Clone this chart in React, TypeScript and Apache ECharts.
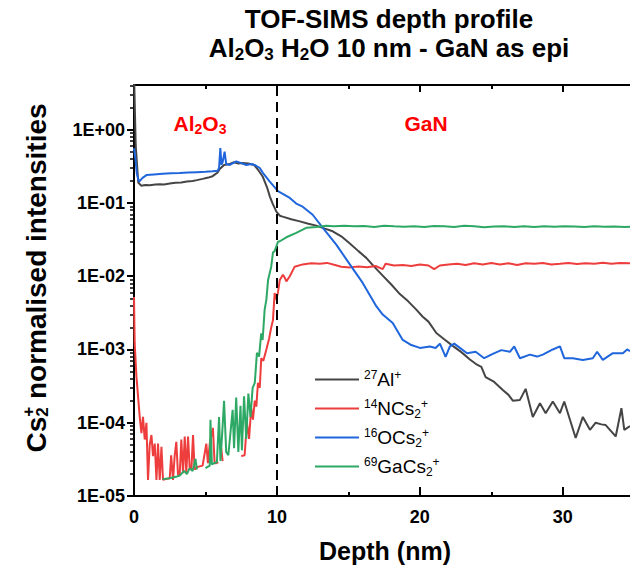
import React, { useEffect, useRef } from 'react';
import * as echarts from 'echarts';

// ---------- data (depth in nm, Cs2+ normalised intensities) ----------
const seriesNames = ['27Al+', '14NCs2+', '16OCs2+', '69GaCs2+'];

const depthAl = [0, 0.12, 0.3, 0.5, 0.8, 1.1, 1.5, 1.8, 2.1, 2.5, 2.9, 3.3, 3.7, 4.1, 4.4, 4.8, 5.2, 5.5, 5.85, 6.0, 6.3, 6.7, 7.0, 7.3, 7.6, 8.0, 8.4, 8.7, 9.0, 9.3, 9.5, 9.7, 9.96, 10.2, 10.4, 11.0, 11.6, 12.2, 12.75, 13.3, 13.9, 14.5, 15.1, 15.7, 16.25, 16.8, 17.4, 18.0, 18.6, 19.2, 19.75, 20.2, 20.6, 21.15, 21.7, 22.3, 22.9, 23.5, 24.0, 24.3, 24.6, 25.2, 25.8, 26.2, 26.5, 27.0, 27.4, 27.9, 28.4, 28.8, 29.3, 29.8, 30.1, 30.5, 30.9, 31.4, 31.9, 32.3, 32.7, 33.0, 33.7, 34.1, 34.3, 34.7];
const valueAl = [6, 0.6, 0.19, 0.172, 0.176, 0.174, 0.178, 0.18, 0.179, 0.184, 0.188, 0.19, 0.196, 0.2, 0.205, 0.213, 0.222, 0.232, 0.26, 0.29, 0.33, 0.34, 0.36, 0.345, 0.35, 0.345, 0.33, 0.28, 0.23, 0.165, 0.123, 0.098, 0.076, 0.067, 0.065, 0.06, 0.056, 0.052, 0.049, 0.045, 0.041, 0.035, 0.028, 0.022, 0.0178, 0.0135, 0.0102, 0.0077, 0.0057, 0.0045, 0.0035, 0.0028, 0.0024, 0.00168, 0.00138, 0.00112, 0.00092, 0.00073, 0.00062, 0.00058, 0.00042, 0.00036, 0.00028, 0.00024, 0.0002, 0.000205, 0.00029, 0.00012, 0.000185, 0.000135, 0.000195, 0.000135, 0.000195, 0.00011, 0.000062, 0.00012, 0.00008, 0.0001, 0.000095, 0.000093, 0.000065, 0.000158, 0.00008, 0.00009];

const depthN = [0, 0.05, 0.17, 0.4, 0.52, 0.63, 0.75, 0.87, 0.98, 1.1, 1.22, 1.33, 1.45, 1.57, 1.68, 1.8, 1.92, 2.03, 2.2, 2.5, 2.6, 2.73, 2.85, 2.96, 3.08, 3.2, 3.31, 3.43, 3.55, 3.66, 3.78, 3.9, 4.02, 4.13, 4.24, 4.47, 4.8, 5.06, 5.17, 5.3, 5.52, 5.64, 5.76, 5.9, 6.0, 6.1, 6.2, 6.35, 7.5, 7.74, 7.9, 8.05, 8.2, 8.32, 8.45, 8.56, 8.67, 8.8, 8.9, 9.05, 9.26, 9.45, 9.6, 9.72, 9.84, 9.96, 10.07, 10.2, 10.42, 10.55, 10.66, 10.9, 11.24, 11.8, 12.4, 13.0, 13.5, 14.0, 14.5, 15.1, 15.7, 16.3, 16.9, 17.4, 17.6, 18.2, 18.8, 19.4, 20.0, 20.6, 21.0, 21.4, 22.0, 22.6, 23.2, 23.8, 24.4, 25.0, 25.6, 26.2, 26.8, 27.4, 28.0, 28.6, 29.2, 29.8, 30.4, 31.0, 31.6, 32.2, 32.8, 33.4, 34.0, 34.7];
const valueN = [0.0052, 0.0012, 0.00043, 0.00012, 0.000072, 0.00012, 0.000059, 0.0001, 0.0000166, 0.00005, 0.000068, 0.000035, 0.000052, 0.0000166, 0.000052, 0.0000166, 0.000047, 0.0000166, 0.000017, 0.0000175, 0.000036, 0.0000166, 0.000036, 0.000055, 0.0000195, 0.00002, 0.000059, 0.0000205, 0.000065, 0.0000205, 0.000065, 0.000023, 0.000024, 0.000068, 0.000023, 0.000025, 0.000026, 0.000052, 0.000028, 0.000052, 0.000085, 0.000028, 0.000028, 0.000029, null, 0.000045, 0.00003, null, 0.000035, 0.000036, 0.0001, 0.00006, 0.00016, 0.00011, 0.0002, 0.000166, 0.00035, 0.0003, 0.00076, 0.0007, 0.001, 0.0014, 0.002, 0.0025, 0.0059, 0.0048, 0.006, 0.0089, 0.0105, 0.0095, 0.0085, 0.01, 0.0135, 0.0145, 0.015, 0.0148, 0.0152, 0.0143, 0.0135, 0.0132, 0.0136, 0.0133, 0.0138, 0.0125, 0.0148, 0.014, 0.0142, 0.0138, 0.0145, 0.014, 0.0125, 0.014, 0.0145, 0.0148, 0.0142, 0.015, 0.0145, 0.0152, 0.0145, 0.015, 0.0142, 0.015, 0.0148, 0.0152, 0.0145, 0.0148, 0.0152, 0.0147, 0.015, 0.0148, 0.0153, 0.0148, 0.0152, 0.015];

const depthO = [0, 0.1, 0.2, 0.35, 0.6, 0.87, 1.4, 2.0, 2.6, 3.2, 3.8, 4.4, 5.0, 5.5, 5.86, 5.95, 6.04, 6.12, 6.2, 6.34, 6.45, 6.7, 7.16, 7.5, 7.86, 8.2, 8.44, 8.8, 9.0, 9.5, 10.07, 10.5, 10.9, 11.35, 11.8, 12.5, 13.2, 14.15, 15.1, 16.0, 16.95, 17.4, 18.1, 18.8, 19.4, 20.0, 20.7, 21.1, 21.4, 21.8, 22.1, 22.4, 22.8, 23.3, 23.9, 24.5, 25.1, 25.7, 26.3, 26.6, 27.0, 27.7, 28.2, 28.6, 29.3, 29.8, 30.1, 30.7, 31.4, 32.1, 32.4, 32.8, 33.5, 34.2, 34.5, 34.7];
const valueO = [0.56, 0.4, 0.25, 0.195, 0.22, 0.24, 0.245, 0.25, 0.255, 0.257, 0.26, 0.263, 0.266, 0.27, 0.275, 0.3, 0.56, 0.33, 0.36, 0.5, 0.34, 0.33, 0.37, 0.35, 0.33, 0.34, 0.33, 0.3, 0.26, 0.195, 0.145, 0.13, 0.117, 0.098, 0.089, 0.069, 0.046, 0.027, 0.0145, 0.0081, 0.0039, 0.003, 0.0023, 0.00135, 0.00115, 0.00105, 0.0011, 0.00105, 0.0012, 0.00079, 0.0011, 0.0012, 0.00105, 0.00089, 0.00093, 0.00076, 0.00087, 0.00098, 0.00093, 0.0011, 0.00076, 0.00085, 0.0008, 0.00085, 0.001, 0.0011, 0.00076, 0.00076, 0.00072, 0.00076, 0.00093, 0.00072, 0.00089, 0.00089, 0.001, 0.00095];

const depthGa = [2.0, 2.5, 3.0, 3.2, 3.5, 3.7, 3.9, 4.1, 4.3, 4.4, 4.6, 5.0, 5.3, 5.35, 5.45, 5.6, 5.8, 5.95, 6.05, 6.2, 6.3, 6.45, 6.6, 6.9, 7.0, 7.15, 7.3, 7.45, 7.55, 7.7, 7.85, 8.0, 8.15, 8.3, 8.45, 8.6, 8.75, 8.9, 9.0, 9.14, 9.26, 9.38, 9.6, 9.72, 9.84, 10.07, 10.2, 10.66, 11.35, 12.05, 12.75, 13.45, 14.0, 14.7, 15.4, 16.1, 16.8, 17.5, 18.2, 18.9, 19.6, 20.3, 21.0, 21.7, 22.4, 23.1, 23.8, 24.5, 25.2, 25.9, 26.6, 27.3, 28.0, 28.7, 29.4, 30.1, 30.8, 31.5, 32.2, 32.9, 33.6, 34.3, 34.7];
const valueGa = [0.000017, 0.0000175, 0.0000185, 0.000019, 0.000022, 0.00002, 0.000024, 0.000022, 0.000032, 0.000023, null, 0.000024, 0.000026, 0.00011, 0.000027, 0.000028, 0.000029, 0.00012, 0.00003, 0.00009, 0.0002, 0.00004, 0.000036, 0.00015, 0.000045, 0.00022, 0.00004, 0.00017, 0.000042, 0.00023, 0.00006, 0.00025, 0.00012, 0.0003, 0.00035, 0.0009, 0.0008, 0.00166, 0.00135, 0.0035, 0.0048, 0.0089, 0.0135, 0.021, 0.022, 0.0295, 0.03, 0.034, 0.039, 0.0457, 0.047, 0.049, 0.048, 0.049, 0.048, 0.0485, 0.047, 0.049, 0.048, 0.0475, 0.048, 0.047, 0.0485, 0.048, 0.047, 0.0488, 0.048, 0.0465, 0.0478, 0.0482, 0.047, 0.048, 0.047, 0.0482, 0.0475, 0.048, 0.0478, 0.0468, 0.048, 0.0475, 0.0478, 0.047, 0.0475];

const yDecades = [-5, -4, -3, -2, -1, 0];
const xMajorTicks = [0, 10, 20, 30];
const xMinorTicks = [5, 15, 25];
const interfaceDepth = 10;

// ---------- styling ----------
const FONT = 'Liberation Sans, Arial, Helvetica, sans-serif';
const colors = ['#454545', '#ee3d3d', '#1f66dd', '#2ea865'];
const X_MAX = 34.7;
const Y_MAX = 0.61;

const legendRich: Record<string, string> = {
  '27Al+': '{sup|27}Al{sup|+}',
  '14NCs2+': '{sup|14}NCs{sub|2}{sup|+}',
  '16OCs2+': '{sup|16}OCs{sub|2}{sup|+}',
  '69GaCs2+': '{sup|69}GaCs{sub|2}{sup|+}',
};

function toLog(depths: number[], values: (number | null)[]) {
  return depths.map((d, i) => [d, values[i] == null ? null : Math.log10(values[i] as number)]);
}

export default function App() {
  const ref = useRef<HTMLDivElement>(null);
  useEffect(() => {
    if (!ref.current) return;
    const chart = echarts.init(ref.current, null, { renderer: 'svg' });

    const minorY: number[] = [];
    yDecades.forEach((n) => {
      for (let k = 2; k <= 9; k++) {
        const v = n + Math.log10(k);
        if (v <= Y_MAX) minorY.push(v);
      }
    });

    const dataSets = [
      toLog(depthAl, valueAl),
      toLog(depthN, valueN),
      toLog(depthO, valueO),
      toLog(depthGa, valueGa),
    ];

    const axisLineStyle = { color: '#000', width: 2 };

    const option: any = {
      animation: false,
      grid: { left: 134, right: 0, top: 85, bottom: 70, containLabel: false, outerBoundsMode: 'none' },
      xAxis: [
        {
          type: 'value', min: 0, max: X_MAX, position: 'bottom',
          axisLine: { show: true, onZero: false, lineStyle: axisLineStyle },
          axisTick: { show: true, inside: true, length: 9, customValues: xMajorTicks, lineStyle: { width: 2, color: '#000' } },
          axisLabel: { show: true, customValues: xMajorTicks, margin: 12, fontSize: 18, fontWeight: 'bold', color: '#000', fontFamily: FONT },
          splitLine: { show: false },
        },
        {
          type: 'value', min: 0, max: X_MAX, position: 'bottom',
          axisLine: { show: false, onZero: false },
          axisTick: { show: true, inside: true, length: 4, customValues: xMinorTicks, lineStyle: { width: 2, color: '#000' } },
          axisLabel: { show: false },
          splitLine: { show: false },
        },
        {
          type: 'value', min: 0, max: X_MAX, position: 'top',
          axisLine: { show: true, onZero: false, lineStyle: axisLineStyle },
          axisTick: { show: true, inside: true, length: 7, customValues: xMajorTicks, lineStyle: { width: 2, color: '#000' } },
          axisLabel: { show: false },
          splitLine: { show: false },
        },
        {
          type: 'value', min: 0, max: X_MAX, position: 'top',
          axisLine: { show: false, onZero: false },
          axisTick: { show: true, inside: true, length: 4, customValues: xMinorTicks, lineStyle: { width: 2, color: '#000' } },
          axisLabel: { show: false },
          splitLine: { show: false },
        },
      ],
      yAxis: [
        {
          type: 'value', min: -5, max: Y_MAX, position: 'left',
          axisLine: { show: true, onZero: false, lineStyle: axisLineStyle },
          axisTick: { show: true, inside: false, length: 7, customValues: yDecades, lineStyle: { width: 2, color: '#000' } },
          axisLabel: {
            show: true, customValues: yDecades, margin: 9, fontSize: 18, fontWeight: 'bold', color: '#000', fontFamily: FONT,
            formatter: (v: number) => '1E' + (v >= 0 ? '+' : '-') + String(Math.abs(Math.round(v))).padStart(2, '0'),
          },
          splitLine: { show: false },
        },
        {
          type: 'value', min: -5, max: Y_MAX, position: 'left',
          axisLine: { show: false, onZero: false },
          axisTick: { show: true, inside: false, length: 4, customValues: minorY, lineStyle: { width: 1.5, color: '#000' } },
          axisLabel: { show: false },
          splitLine: { show: false },
        },
      ],
      legend: {
        orient: 'vertical', left: 315, top: 365, padding: 0, itemWidth: 44, itemHeight: 2, icon: 'rect', itemGap: 0,
        data: seriesNames,
        formatter: (name: string) => legendRich[name] || name,
        textStyle: {
          fontSize: 19, color: '#000', fontFamily: FONT, lineHeight: 29,
          rich: {
            sup: { fontSize: 12, fontFamily: FONT, color: '#000', padding: [0, 0, 10, 0] },
            sub: { fontSize: 12, fontFamily: FONT, color: '#000', padding: [10, 0, 0, 0] },
          },
        },
      },
      series: seriesNames.map((name, i) => ({
        name,
        type: 'line',
        xAxisIndex: 0,
        yAxisIndex: 0,
        data: dataSets[i],
        showSymbol: false,
        symbol: 'none',
        connectNulls: false,
        clip: true,
        lineStyle: { color: colors[i], width: 2 },
        itemStyle: { color: colors[i] },
        z: 2 + i,
        markLine: i === 0 ? {
          silent: true, symbol: ['none', 'none'], label: { show: false },
          lineStyle: { color: '#000', type: [10, 6], width: 2 },
          data: [{ xAxis: interfaceDepth }],
        } : undefined,
      })),
      graphic: [
        {
          type: 'text', x: 389, y: 19,
          style: { text: 'TOF-SIMS depth profile', font: `bold 26px ${FONT}`, fill: '#000', textAlign: 'center', textVerticalAlign: 'middle' },
        },
        {
          type: 'text', x: 389, y: 48,
          style: {
            text: '{b|Al}{s|2}{b|O}{s|3}{b| H}{s|2}{b|O 10 nm - GaN as epi}',
            textAlign: 'center', textVerticalAlign: 'middle', fill: '#000',
            rich: {
              b: { fontSize: 26, fontWeight: 'bold', fontFamily: FONT, lineHeight: 32, fill: '#000' },
              s: { fontSize: 17, fontWeight: 'bold', fontFamily: FONT, lineHeight: 32, padding: [13, 0, 0, 0], fill: '#000' },
            },
          },
        },
        {
          type: 'text', x: 200, y: 123,
          style: {
            text: '{b|Al}{s|2}{b|O}{s|3}',
            textAlign: 'center', textVerticalAlign: 'middle', fill: '#ff0000',
            rich: {
              b: { fontSize: 21, fontWeight: 'bold', fontFamily: FONT, lineHeight: 28, fill: '#ff0000' },
              s: { fontSize: 14, fontWeight: 'bold', fontFamily: FONT, lineHeight: 28, padding: [11, 0, 0, 0], fill: '#ff0000' },
            },
          },
        },
        {
          type: 'text', x: 426, y: 123,
          style: { text: 'GaN', font: `bold 21px ${FONT}`, fill: '#ff0000', textAlign: 'center', textVerticalAlign: 'middle' },
        },
        {
          type: 'text', x: 385, y: 551,
          style: { text: 'Depth (nm)', font: `bold 25px ${FONT}`, fill: '#000', textAlign: 'center', textVerticalAlign: 'middle' },
        },
        {
          type: 'text', x: 36, y: 278, rotation: Math.PI / 2,
          style: {
            text: '{b|Cs}{sub|2}{sup|+}{b| normalised intensities}',
            textAlign: 'center', textVerticalAlign: 'middle', fill: '#000',
            rich: {
              b: { fontSize: 28, fontWeight: 'bold', fontFamily: FONT, lineHeight: 36, fill: '#000' },
              sub: { fontSize: 17, fontWeight: 'bold', fontFamily: FONT, lineHeight: 36, padding: [13, 0, 0, 0], fill: '#000' },
              sup: { fontSize: 17, fontWeight: 'bold', fontFamily: FONT, lineHeight: 36, padding: [0, 0, 15, -9.5], fill: '#000' },
            },
          },
        },
      ],
    };

    chart.setOption(option);
    return () => chart.dispose();
  }, []);

  return <div ref={ref} style={{ width: 630, height: 566, position: 'absolute', left: 0, top: 0 }} />;
}
